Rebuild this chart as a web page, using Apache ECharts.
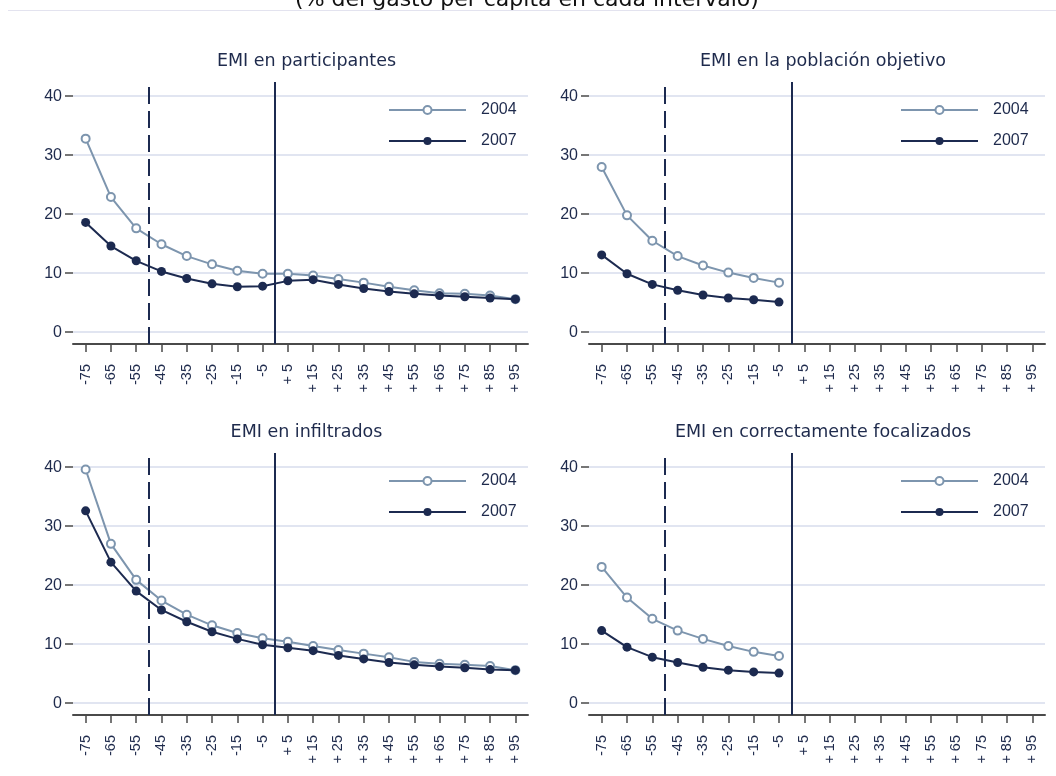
<!DOCTYPE html>
<html>
<head>
<meta charset="utf-8">
<script src="https://cdn.jsdelivr.net/npm/echarts@6/dist/echarts.min.js"></script>
<style>
html,body{margin:0;padding:0;background:#fff;}
#c{width:1056px;height:776px;}
</style>
</head>
<body>
<div id="c"></div>
<script>
// Interval midpoints (distance to the line, % of per-capita spending)
const mids = [-75,-65,-55,-45,-35,-25,-15,-5,5,15,25,35,45,55,65,75,85,95];
const tickLabels = ['-75','-65','-55','-45','-35','-25','-15','-5','+ 5','+ 15','+ 25','+ 35','+ 45','+ 55','+ 65','+ 75','+ 85','+ 95'];
const yTicks = [0,10,20,30,40];
const panelTitles = ['EMI en participantes','EMI en la población objetivo','EMI en infiltrados','EMI en correctamente focalizados'];
const years = ['2004','2007'];

// EMI en participantes
const part2004 = [32.8,22.9,17.6,14.9,12.9,11.5,10.4,9.9,9.9,9.6,9.0,8.4,7.7,7.1,6.6,6.5,6.2,5.6];
const part2007 = [18.6,14.6,12.1,10.3,9.1,8.2,7.7,7.8,8.7,8.9,8.1,7.4,6.9,6.5,6.2,6.0,5.8,5.6];
// EMI en la población objetivo
const pob2004 = [28.0,19.8,15.5,12.9,11.3,10.1,9.2,8.4];
const pob2007 = [13.1,9.9,8.1,7.1,6.3,5.8,5.5,5.1];
// EMI en infiltrados
const inf2004 = [39.6,27.0,20.9,17.4,15.0,13.2,11.9,11.0,10.4,9.7,9.0,8.4,7.8,7.0,6.7,6.5,6.3,5.6];
const inf2007 = [32.6,23.9,19.0,15.8,13.8,12.1,10.9,9.9,9.4,8.9,8.1,7.5,6.9,6.5,6.2,6.0,5.7,5.6];
// EMI en correctamente focalizados
const foc2004 = [23.1,17.9,14.3,12.3,10.9,9.7,8.7,8.0];
const foc2007 = [12.3,9.5,7.8,6.9,6.1,5.6,5.3,5.1];

// Threshold lines (x positions)
const dashedAt = -50;
const solidAt = 0;

const panels = [[part2004,part2007],[pob2004,pob2007],[inf2004,inf2007],[foc2004,foc2007]];

const C04 = '#7d95ae';
const C07 = '#1c2a50';
const TXT = '#1e2a4c';
const AX = '#4a4a4a';
const FONT = 'Liberation Sans, Arial, sans-serif';
const TFONT = 'DejaVu Sans, sans-serif';

const grids = [
  {left:73, top:82, width:455, height:262},
  {left:589, top:82, width:456, height:262},
  {left:73, top:453, width:455, height:262},
  {left:589, top:453, width:456, height:262}
];

const toPairs = arr => arr.map((v,i)=>[mids[i], v]);

const option = {
  backgroundColor:'#fff',
  animation:false,
  grid: grids,
  title: grids.map((g,i)=>({
    text: panelTitles[i],
    left: g.left + g.width/2 + 1,
    top: g.top - 35,
    textAlign:'center',
    textStyle:{fontFamily:TFONT, fontSize:17.5, fontWeight:'normal', color:TXT}
  })),
  legend: grids.map((g,i)=>({
    data: years,
    orient:'vertical',
    left: g.left + (i%2===0 ? 310 : 306),
    top: g.top + 15,
    itemWidth:77,
    itemHeight:10,
    itemGap:15,
    selectedMode:false,
    textStyle:{fontFamily:FONT, fontSize:16, color:TXT, padding:[0,0,0,10]}
  })),
  xAxis: grids.map((g,i)=>({
    gridIndex:i,
    type:'value',
    min:-80, max:100,
    axisLine:{show:true, onZero:false, lineStyle:{color:AX, width:2}},
    axisTick:{show:true, customValues:mids, length:8, lineStyle:{color:AX, width:1.5}},
    axisLabel:{show:true, customValues:mids, rotate:90, margin:20,
      fontFamily:FONT, fontSize:14.5, color:TXT,
      formatter: v => tickLabels[mids.indexOf(v)]},
    splitLine:{show:false}
  })),
  yAxis: grids.map((g,i)=>({
    gridIndex:i,
    type:'value',
    min:-2, max:42.4,
    axisLine:{show:false, onZero:false},
    axisTick:{show:true, customValues:yTicks, length:8, lineStyle:{color:AX, width:1.5}},
    axisLabel:{show:true, customValues:yTicks, margin:11, fontFamily:FONT, fontSize:16, color:TXT},
    splitLine:{show:true, lineStyle:{color:'#e1e5f1', width:2}}
  })),
  series: [],
  graphic: [
    {type:'line', shape:{x1:8,y1:10.5,x2:1056,y2:10.5}, style:{stroke:'#e3e3ef', lineWidth:1}},
    {type:'text', x:527, y:11, style:{text:'(% del gasto per cápita en cada intervalo)', font:'22px '+TFONT, fill:'#111', textAlign:'center', textVerticalAlign:'bottom'}}
  ]
};

panels.forEach((p,i)=>{
  option.series.push({
    name:'2004', type:'line', xAxisIndex:i, yAxisIndex:i,
    data: toPairs(p[0]),
    symbol:'emptyCircle', symbolSize:8,
    lineStyle:{color:C04, width:2},
    itemStyle:{color:C04, borderWidth:1.5},
    z:3
  });
  option.series.push({
    name:'2007', type:'line', xAxisIndex:i, yAxisIndex:i,
    data: toPairs(p[1]),
    symbol:'circle', symbolSize:9,
    lineStyle:{color:C07, width:2},
    itemStyle:{color:C07},
    z:4,
    markLine:{
      silent:true, symbol:'none', label:{show:false},
      data:[
        {xAxis:dashedAt, lineStyle:{color:C07, width:2, type:[17,7]}},
        {xAxis:solidAt, lineStyle:{color:C07, width:2, type:'solid'}}
      ]
    }
  });
});

const chart = echarts.init(document.getElementById('c'), null, {renderer:'canvas'});
chart.setOption(option);
</script>
</body>
</html>
